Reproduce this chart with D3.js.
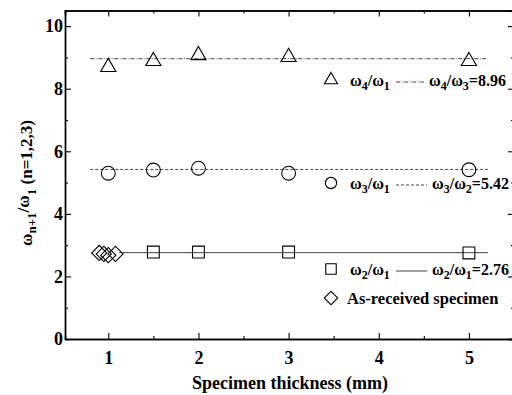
<!DOCTYPE html>
<html>
<head>
<meta charset="utf-8">
<script src="https://cdn.jsdelivr.net/npm/d3@7"></script>
<style>
  body { margin: 0; background: #fff; }
  text { font-family: "Liberation Serif", "Times New Roman", serif; font-weight: bold; fill: #000; }
</style>
</head>
<body>
<div id="chart"></div>
<script>
// values
const thickness = [1, 1.5, 2, 3, 5];
const ratio41 = [8.69, 8.88, 9.07, 9.01, 8.88];
const ratio31 = [5.30, 5.40, 5.46, 5.30, 5.41];
const thickness21 = [1.5, 2, 3, 5];
const ratio21 = [2.78, 2.78, 2.78, 2.75];
const asReceivedX = [0.9, 0.95, 1.0, 1.08];
const asReceivedY = [2.75, 2.72, 2.68, 2.72];
const fitLevels = [8.96, 5.42, 2.76];
const xMajor = [1, 2, 3, 4, 5];
const xMinor = [1.5, 2.5, 3.5, 4.5];
const yMajor = [0, 2, 4, 6, 8, 10];
const yMinor = [1, 3, 5, 7, 9];

const W = 512, H = 395;
const margin = {top: 10.5, right: -2, bottom: 56, left: 65};
const width = W - margin.left - margin.right;
const height = H - margin.top - margin.bottom;

const svg = d3.select('#chart').append('svg')
    .attr('width', W).attr('height', H);
const g = svg.append('g')
    .attr('transform', `translate(${margin.left},${margin.top})`);

const x = d3.scaleLinear().domain([0.52, 5.5]).range([0, width]);
const y = d3.scaleLinear().domain([0, 10.5]).range([height, 0]);

// axes, ticks inward on all sides
function axisStyle(sel) {
    sel.select('.domain').attr('stroke', '#000').attr('stroke-width', 1.4);
    sel.selectAll('.tick line').attr('stroke', '#000').attr('stroke-width', 1.1);
    sel.selectAll('.tick text').style('font-size', '18px');
}
g.append('g').attr('transform', `translate(0,${height})`)
    .call(d3.axisBottom(x).tickValues(xMajor).tickSizeInner(-6).tickSizeOuter(0).tickPadding(12).tickFormat(d3.format('d')))
    .call(axisStyle);
g.append('g').attr('transform', `translate(0,${height})`)
    .call(d3.axisBottom(x).tickValues(xMinor).tickSize(-3).tickFormat(''))
    .call(axisStyle);
g.append('g')
    .call(d3.axisTop(x).tickValues(xMajor).tickSize(-6).tickFormat(''))
    .call(axisStyle);
g.append('g')
    .call(d3.axisTop(x).tickValues(xMinor).tickSize(-3).tickFormat(''))
    .call(axisStyle);
g.append('g')
    .call(d3.axisLeft(y).tickValues(yMajor).tickSizeInner(-6).tickSizeOuter(0).tickPadding(2).tickFormat(d3.format('d')))
    .call(axisStyle);
g.append('g')
    .call(d3.axisLeft(y).tickValues(yMinor).tickSize(-3).tickFormat(''))
    .call(axisStyle);
g.append('g').attr('transform', `translate(${width},0)`)
    .call(d3.axisRight(y).tickValues(yMajor).tickSize(-6).tickFormat(''))
    .call(axisStyle);
g.append('g').attr('transform', `translate(${width},0)`)
    .call(d3.axisRight(y).tickValues(yMinor).tickSize(-3).tickFormat(''))
    .call(axisStyle);

// fitted mean lines
const lineDash = ['4,1.5,1,1.5', '3,2', null];
const lineStart = [0.8, 0.8, 1.12];
fitLevels.forEach((v, i) => {
    g.append('line')
        .attr('x1', x(lineStart[i])).attr('x2', x(5.21))
        .attr('y1', y(v)).attr('y2', y(v))
        .attr('stroke', '#444').attr('stroke-width', 1)
        .attr('stroke-dasharray', lineDash[i]);
});

const sym = {
    tri: d3.symbol().type(d3.symbolTriangle).size(100),
    circ: d3.symbol().type(d3.symbolCircle).size(150),
    sq: d3.symbol().type(d3.symbolSquare).size(140),
    dia: d3.symbol().type(d3.symbolSquare).size(115)
};

function markers(xs, ys, path, rotate) {
    g.append('g').selectAll('path')
        .data(xs.map((d, i) => [d, ys[i]]))
        .join('path')
        .attr('d', path)
        .attr('transform', d => `translate(${x(d[0])},${y(d[1])})${rotate ? ' rotate(45)' : ''}`)
        .attr('fill', 'none').attr('stroke', '#000').attr('stroke-width', 1.1);
}
markers(thickness, ratio41, sym.tri);
markers(thickness, ratio31, sym.circ);
markers(thickness21, ratio21, sym.sq);
markers(asReceivedX, asReceivedY, sym.dia, true);

// legend
const legend = svg.append('g');
const legendRows = [
    {y: 80, a: ['4', '1'], b: ['4', '3'], val: '8.96', dash: lineDash[0], lx: [396, 424], bx: 429},
    {y: 183, a: ['3', '1'], b: ['3', '2'], val: '5.42', dash: lineDash[1], lx: [396, 427], bx: 432},
    {y: 269, a: ['2', '1'], b: ['2', '1'], val: '2.76', dash: null, lx: [396, 427], bx: 432}
];
const legSyms = [
    d3.symbol().type(d3.symbolTriangle).size(75),
    d3.symbol().type(d3.symbolCircle).size(100),
    d3.symbol().type(d3.symbolSquare).size(110)
];

function ratioText(sel, xPos, yPos, sub, suffix) {
    const t = sel.append('text').attr('x', xPos).attr('y', yPos).style('font-size', '16px');
    t.append('tspan').text('ω');
    t.append('tspan').attr('dy', 4).style('font-size', '12px').text(sub[0]);
    t.append('tspan').attr('dy', -4).text('/ω');
    t.append('tspan').attr('dy', 4).style('font-size', '12px').text(sub[1]);
    if (suffix) t.append('tspan').attr('dy', -4).text(suffix);
}

legendRows.forEach((r, i) => {
    legend.append('path').attr('d', legSyms[i])
        .attr('transform', `translate(331,${r.y})`)
        .attr('fill', 'none').attr('stroke', '#000').attr('stroke-width', 1.1);
    ratioText(legend, 350, r.y + 6, r.a);
    legend.append('line').attr('x1', r.lx[0]).attr('x2', r.lx[1])
        .attr('y1', r.y + 2).attr('y2', r.y + 2)
        .attr('stroke', '#444').attr('stroke-width', 1)
        .attr('stroke-dasharray', r.dash);
    ratioText(legend, r.bx, r.y + 6, r.b, '=' + r.val);
});
legend.append('path').attr('d', d3.symbol().type(d3.symbolSquare).size(90))
    .attr('transform', 'translate(331,298) rotate(45)')
    .attr('fill', 'none').attr('stroke', '#000').attr('stroke-width', 1.1);
legend.append('text').attr('x', 347).attr('y', 304).style('font-size', '16.5px').text('As-received specimen');

// axis titles
svg.append('text').attr('x', 290).attr('y', 389).attr('text-anchor', 'middle')
    .style('font-size', '18px').text('Specimen thickness (mm)');

const yt = svg.append('text').attr('transform', 'translate(32,183) rotate(-90)')
    .attr('text-anchor', 'middle').style('font-size', '17px');
yt.append('tspan').text('ω');
yt.append('tspan').attr('dy', 4).style('font-size', '13px').text('n+1');
yt.append('tspan').attr('dy', -7).text('/ω');
yt.append('tspan').attr('dy', 7).style('font-size', '13px').text('1');
yt.append('tspan').attr('dy', -4).text(' (n=1,2,3)');
</script>
</body>
</html>
